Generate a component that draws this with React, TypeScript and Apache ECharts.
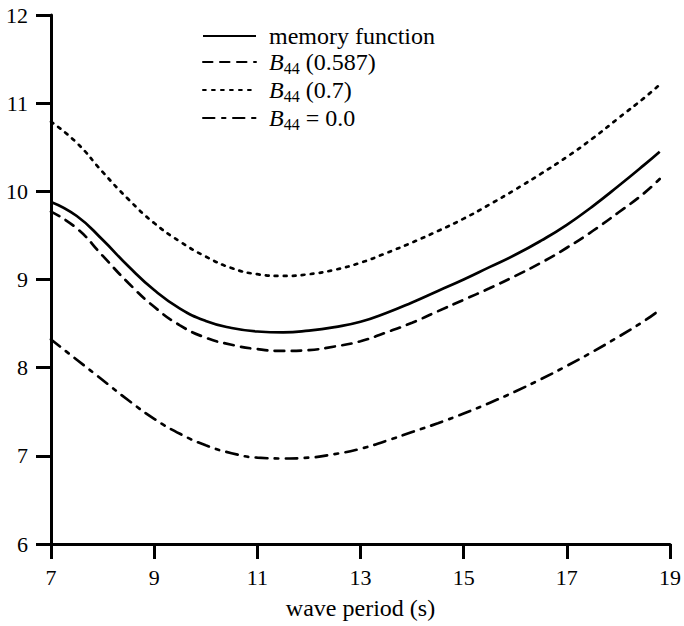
import React, { useEffect, useRef, useState } from "react";
import * as echarts from "echarts";

const periods = [7, 7.5, 8, 8.5, 9, 9.5, 10, 10.5, 11, 11.5, 12, 12.5, 13, 13.5, 14, 14.5, 15, 15.5, 16, 16.5, 17, 17.5, 18, 18.5, 18.8];
const memoryFunction = [9.88, 9.72, 9.45, 9.15, 8.88, 8.67, 8.53, 8.45, 8.41, 8.4, 8.42, 8.46, 8.52, 8.62, 8.74, 8.87, 9.0, 9.14, 9.28, 9.44, 9.62, 9.83, 10.06, 10.3, 10.45];
const b44_0587 = [9.77, 9.58, 9.27, 8.96, 8.69, 8.48, 8.34, 8.26, 8.21, 8.19, 8.2, 8.24, 8.3, 8.4, 8.51, 8.64, 8.77, 8.9, 9.04, 9.19, 9.36, 9.55, 9.76, 9.98, 10.14];
const b44_07 = [10.79, 10.55, 10.22, 9.91, 9.64, 9.43, 9.26, 9.13, 9.06, 9.04, 9.06, 9.11, 9.19, 9.3, 9.42, 9.55, 9.69, 9.85, 10.02, 10.2, 10.39, 10.6, 10.83, 11.06, 11.21];
const b44_0 = [8.32, 8.09, 7.86, 7.63, 7.42, 7.25, 7.12, 7.03, 6.98, 6.97, 6.98, 7.02, 7.08, 7.17, 7.27, 7.37, 7.48, 7.6, 7.73, 7.87, 8.02, 8.18, 8.35, 8.53, 8.655];

const seriesNames = ["memory function", "B44 (0.587)", "B44 (0.7)", "B44 = 0.0"];
const legendLabels: Record<string, string> = {
  "memory function": "{n|memory function}",
  "B44 (0.587)": "{i|B}{s|44}{n| (0.587)}",
  "B44 (0.7)": "{i|B}{s|44}{n| (0.7)}",
  "B44 = 0.0": "{i|B}{s|44}{n| = 0.0}",
};

const FONT = "Liberation Serif";

function pairs(ys: number[]) {
  return periods.map((x, i) => [x, ys[i]]);
}

export default function App() {
  const ref = useRef<HTMLDivElement>(null);
  const [count, setCount] = useState(0);
  useEffect(() => {
    document.body.style.margin = "0";
    document.body.style.fontFamily = FONT;
    if (!ref.current) return;
    const chart = echarts.init(ref.current, null, { renderer: "svg" });
    const lineBase = { type: "line", smooth: 0.5, symbol: "none", showSymbol: false };
    chart.setOption({
      animation: false,
      backgroundColor: "#fff",
      textStyle: { fontFamily: FONT },
      grid: { left: 51, right: 12, top: 15, bottom: 82, containLabel: false },
      legend: {
        orient: "vertical",
        left: 197,
        top: 19,
        itemWidth: 53,
        itemHeight: 14,
        itemGap: 2,
        data: seriesNames,
        itemStyle: { opacity: 0 },
        formatter: (name: string) => legendLabels[name],
        textStyle: {
          fontFamily: FONT,
          fontSize: 24,
          color: "#000",
          padding: [0, 0, 0, 8],
          rich: {
            i: { fontFamily: FONT, fontSize: 24, fontStyle: "italic", color: "#000" },
            s: { fontFamily: FONT, fontSize: 16, color: "#000", padding: [12, 0, 0, 0] },
            n: { fontFamily: FONT, fontSize: 24, color: "#000" },
          },
        },
      },
      xAxis: {
        type: "value",
        min: 7,
        max: 19,
        interval: 2,
        name: "wave period (s)",
        nameLocation: "middle",
        nameGap: 52,
        nameTextStyle: { fontFamily: FONT, fontSize: 24, color: "#000" },
        axisLine: { onZero: false, lineStyle: { color: "#000", width: 3 } },
        axisTick: { length: 15, lineStyle: { color: "#000", width: 3 } },
        axisLabel: { margin: 22, fontFamily: FONT, fontSize: 22, color: "#000" },
        splitLine: { show: false },
      },
      yAxis: {
        type: "value",
        min: 6,
        max: 12,
        interval: 1,
        axisLine: { show: true, onZero: false, lineStyle: { color: "#000", width: 3 } },
        axisTick: { show: true, length: 15, lineStyle: { color: "#000", width: 3 } },
        axisLabel: { margin: 23, fontFamily: FONT, fontSize: 22, color: "#000" },
        splitLine: { show: false },
      },
      series: [
        { ...lineBase, name: seriesNames[0], data: pairs(memoryFunction), lineStyle: { color: "#000", width: 2.7 }, itemStyle: { color: "#000" } },
        { ...lineBase, name: seriesNames[1], data: pairs(b44_0587), lineStyle: { color: "#000", width: 2.7, cap: "round", type: [9.5, 7.5] }, itemStyle: { color: "#000" } },
        { ...lineBase, name: seriesNames[2], data: pairs(b44_07), lineStyle: { color: "#000", width: 2.7, cap: "round", type: [2.8, 6.2] }, itemStyle: { color: "#000" } },
        { ...lineBase, name: seriesNames[3], data: pairs(b44_0), lineStyle: { color: "#000", width: 2.7, cap: "round", type: [11.5, 7.5, 3.5, 7.5] }, itemStyle: { color: "#000" } },
      ],
    });
    setCount(ref.current.querySelectorAll("text").length);
    return () => chart.dispose();
  }, []);
  return (
    <div style={{ position: "relative", fontFamily: FONT }} data-texts={count}>
      <div ref={ref} style={{ width: 684, height: 626 }} />
    </div>
  );
}
